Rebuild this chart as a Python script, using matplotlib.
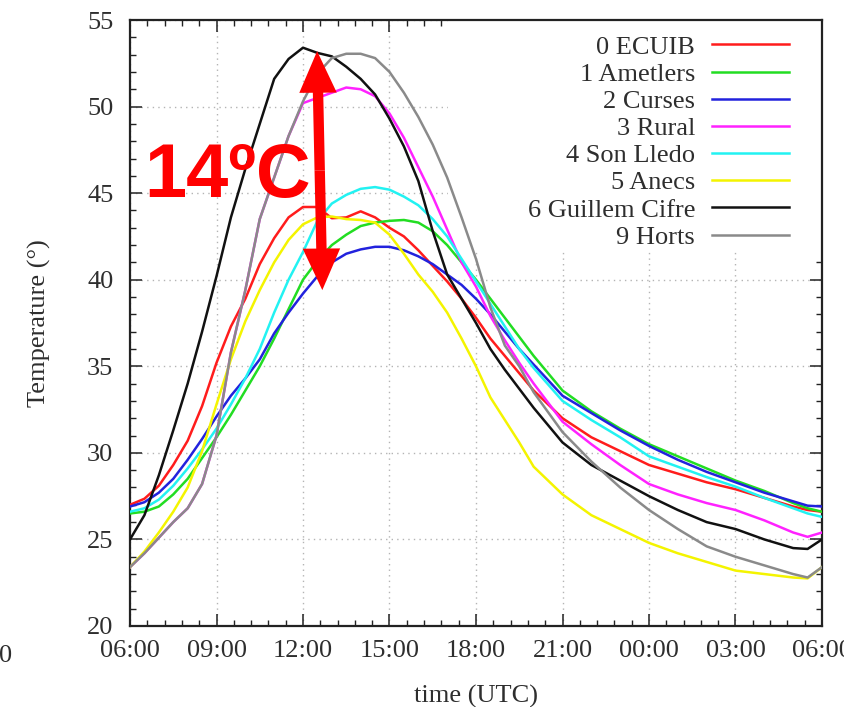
import numpy as np
import matplotlib
matplotlib.use("Agg")
import matplotlib.pyplot as plt
from matplotlib.patches import Rectangle
from matplotlib.ticker import MultipleLocator

# hours after 06:00 UTC
hours = [0, 0.5, 1, 1.5, 2, 2.5, 3, 3.5, 4, 4.5, 5, 5.5, 6, 6.5, 7, 7.5, 8, 8.5,
         9, 9.5, 10, 10.5, 11, 11.5, 12, 12.5, 13, 13.5, 14,
         15, 16, 17, 18, 19, 20, 21, 22, 23, 23.5, 24]

ecuib = [27.0, 27.35, 28.1, 29.3, 30.7, 32.7, 35.2, 37.3, 38.9, 40.9, 42.4, 43.6, 44.2, 44.2,
         43.55, 43.6, 43.95, 43.6, 43.0, 42.5, 41.7, 40.8, 39.9, 38.9, 37.8, 36.6, 35.6, 34.6,
         33.6, 32.0, 30.9, 30.1, 29.3, 28.8, 28.3, 27.9, 27.4, 26.9, 26.7, 26.6]
ametlers = [26.5, 26.6, 26.9, 27.6, 28.5, 29.7, 30.9, 32.2, 33.6, 35.0, 36.6, 38.3, 40.0, 41.1,
            42.0, 42.6, 43.1, 43.3, 43.4, 43.45, 43.3, 42.8, 42.0, 41.0, 40.0, 38.9, 37.8, 36.7,
            35.6, 33.6, 32.4, 31.4, 30.5, 29.8, 29.1, 28.4, 27.8, 27.1, 26.8, 26.6]
curses = [26.9, 27.15, 27.7, 28.5, 29.6, 30.8, 32.1, 33.3, 34.3, 35.4, 36.9, 38.1, 39.2, 40.2,
          41.0, 41.5, 41.75, 41.9, 41.9, 41.7, 41.35, 40.9, 40.3, 39.7, 38.9, 38.0, 37.0, 36.0,
          35.1, 33.3, 32.3, 31.3, 30.4, 29.6, 28.9, 28.3, 27.7, 27.2, 26.95, 26.9]
rural = [23.4, 24.2, 25.1, 26.0, 26.8, 28.2, 31.0, 35.8, 39.4, 43.5, 45.9, 48.3, 50.2, 50.5,
         50.8, 51.1, 51.0, 50.6, 49.6, 48.2, 46.5, 44.8, 42.9, 41.0, 39.6, 37.9, 36.5, 35.2,
         34.0, 31.8, 30.5, 29.3, 28.2, 27.6, 27.1, 26.7, 26.1, 25.4, 25.15, 25.4]
son_lledo = [26.6, 26.8, 27.3, 28.1, 29.1, 30.2, 31.4, 32.8, 34.3, 36.0, 38.1, 40.0, 41.6, 43.4,
             44.4, 44.9, 45.25, 45.35, 45.2, 44.8, 44.3, 43.5, 42.5, 41.2, 39.9, 38.6, 37.3, 36.0,
             34.9, 33.0, 31.9, 30.9, 29.8, 29.2, 28.6, 28.05, 27.4, 26.8, 26.5, 26.3]
anecs = [23.4, 24.3, 25.4, 26.6, 28.0, 30.1, 32.8, 35.4, 37.6, 39.4, 41.0, 42.3, 43.2, 43.6,
         43.65, 43.5, 43.45, 43.3, 42.6, 41.5, 40.3, 39.3, 38.1, 36.6, 35.0, 33.2, 31.9, 30.6,
         29.2, 27.6, 26.4, 25.6, 24.8, 24.2, 23.7, 23.2, 23.0, 22.8, 22.75, 23.4]
guillem_cifre = [25.0, 26.4, 28.7, 31.3, 34.0, 37.0, 40.2, 43.6, 46.4, 49.0, 51.6, 52.75, 53.4,
                 53.1, 52.9, 52.3, 51.6, 50.7, 49.3, 47.7, 45.7, 42.8, 40.3, 38.9, 37.5, 36.0,
                 34.8, 33.7, 32.6, 30.6, 29.3, 28.4, 27.5, 26.7, 26.0, 25.6, 25.0, 24.5, 24.45, 25.0]
horts = [23.4, 24.2, 25.1, 26.0, 26.8, 28.2, 31.0, 35.8, 39.4, 43.5, 45.9, 48.3, 50.3, 51.9,
         52.8, 53.05, 53.05, 52.8, 52.0, 50.8, 49.4, 47.8, 45.9, 43.6, 41.2, 38.4, 36.2, 35.0,
         33.5, 31.2, 29.5, 28.0, 26.7, 25.6, 24.6, 24.0, 23.5, 23.0, 22.8, 23.4]

labels = ["0 ECUIB", "1 Ametlers", "2 Curses", "3 Rural", "4 Son Lledo",
          "5 Anecs", "6 Guillem Cifre", "9 Horts"]
series = [ecuib, ametlers, curses, rural, son_lledo, anecs, guillem_cifre, horts]
colors = ["#ff1c1c", "#22dd22", "#2222dd", "#ff22ff", "#22f2f2", "#f4f400", "#111111", "#8a8a8a"]

xticks = [0, 3, 6, 9, 12, 15, 18, 21, 24]
xticklabels = ["06:00", "09:00", "12:00", "15:00", "18:00", "21:00", "00:00", "03:00", "06:00"]

txt = "#2e2e2e"
plt.rcParams["font.family"] = ["Liberation Serif", "DejaVu Serif"]
plt.rcParams["font.size"] = 19

fig = plt.figure(figsize=(8.45, 7.07), dpi=100)
ax = fig.add_axes([130 / 845, 81 / 707, 692 / 845, 606 / 707])

lines = []
for vals, lab, c in zip(series, labels, colors):
    ln, = ax.plot(hours, vals, color=c, lw=1.8, label=lab, zorder=3)
    lines.append(ln)

ax.set_xlim(0, 24)
ax.set_ylim(20, 55)
ax.set_xticks(xticks)
ax.set_xticklabels(xticklabels)
ax.xaxis.set_minor_locator(MultipleLocator(0.6))
ax.yaxis.set_major_locator(MultipleLocator(5))
ax.yaxis.set_minor_locator(MultipleLocator(1))
ax.tick_params(which="both", direction="in", top=True, right=True, colors="#222222",
               labelcolor=txt)
ax.tick_params(which="major", length=8.5, width=1.1)
ax.tick_params(which="minor", length=4.3, width=1.0)
ax.tick_params(axis="x", pad=10)
ax.tick_params(axis="y", pad=12)
for s in ax.spines.values():
    s.set_linewidth(1.6)
    s.set_color("#222222")

ax.set_axisbelow(True)
ax.grid(True, which="major", color="#b4b4b4", lw=1.0, linestyle=(0, (1, 3)))

# white key box hides the grid behind the key
ax.add_patch(Rectangle((0.4595, 0.6205), 0.5405, 0.3795, transform=ax.transAxes,
                       facecolor="white", edgecolor="none", zorder=1))

leg = ax.legend(handles=lines, loc="upper right", bbox_to_anchor=(0.952, 0.975),
                frameon=False, markerfirst=False, handlelength=2.9, handletextpad=0.65,
                labelspacing=0.14, borderpad=0, borderaxespad=0, fontsize=19)
for t in leg.get_texts():
    t.set_color(txt)
    t.set_ha("right")
leg.set_zorder(2)

ax.set_xlabel("time (UTC)", color=txt)
ax.set_ylabel("Temperature (°)", color=txt)
ax.xaxis.set_label_coords(0.5, -0.097)
ax.yaxis.set_label_coords(-0.114, 0.5)

# 14ºC annotation with double arrow
ax.text(0.021, 0.708, "14ºC", transform=ax.transAxes, color="#ff0000", fontsize=54.5,
        fontweight="bold", family=["Liberation Sans", "DejaVu Sans"], ha="left",
        va="baseline", zorder=6)
top = (6.49, 53.2)
bot = (6.67, 39.4)
mid = ((top[0] + bot[0]) / 2, (top[1] + bot[1]) / 2)
for end in (top, bot):
    ax.arrow(mid[0], mid[1], end[0] - mid[0], end[1] - mid[1], width=0.36,
             head_width=1.3, head_length=2.4, length_includes_head=True,
             color="#ff0000", lw=0, zorder=6)

fig.text(6 / 845, 1 - 656 / 707, "0", color=txt, fontsize=19, ha="center", va="center")

fig.savefig("out.png", dpi=100)
